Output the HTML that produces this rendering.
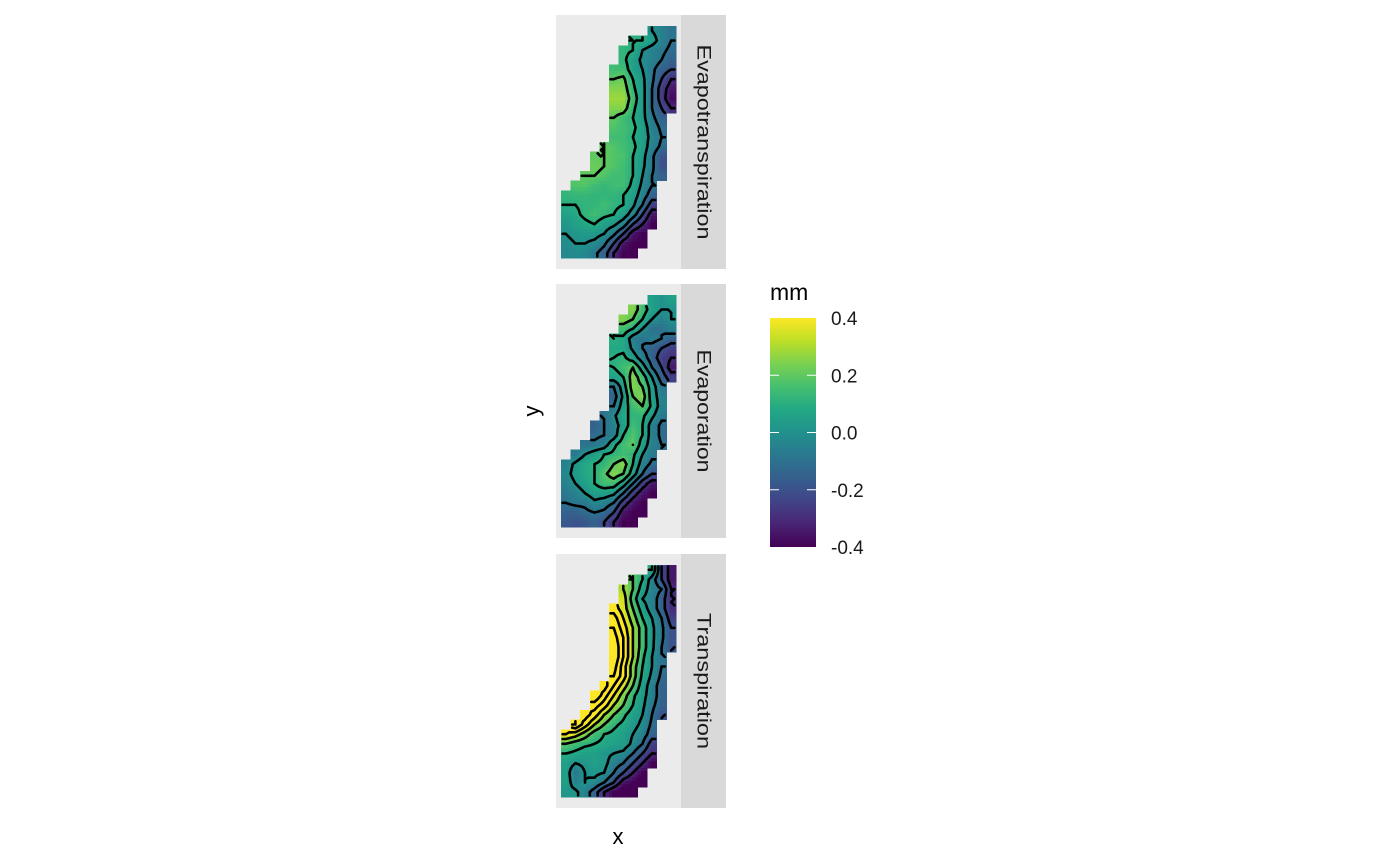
<!DOCTYPE html>
<html><head><meta charset="utf-8"><style>
html,body{margin:0;padding:0;background:#fff;}
svg{display:block;font-family:"Liberation Sans",Arial,sans-serif;}
</style></head><body>
<svg id="chart" width="1400" height="865" viewBox="0 0 1400 865">
<g id="panels"></g>
<text x="539" y="411" font-size="22" fill="#000" text-anchor="middle" transform="rotate(-90 539 411)">y</text>
<text x="618" y="844" font-size="22" fill="#000" text-anchor="middle">x</text>
<g id="legend"></g>
</svg>
<script>
const panelNames = ["Evapotranspiration","Evaporation","Transpiration"];
const stripLengths = [195,123,136];
const maskRows = [[9,11],[7,11],[6,11],[6,11],[5,11],[5,11],[5,11],[5,11],[5,11],[5,10],[5,10],[5,10],[4,10],[3,10],[3,10],[2,10],[1,9],[0,9],[0,9],[0,9],[0,9],[0,8],[0,8],[0,7]];
const evapotranspiration = [
[0,-0.05,-0.1],
[0.1,0.1,0.05,-0.05,-0.1],
[0.12,0.1,0,-0.05,-0.08,-0.12],
[0.12,0.05,-0.02,-0.05,-0.1,-0.15],
[0.15,0.15,0.05,0,-0.08,-0.15,-0.2],
[0.2,0.22,0.1,0.02,-0.08,-0.2,-0.3],
[0.25,0.25,0.12,0.03,-0.1,-0.25,-0.35],
[0.28,0.28,0.15,0.03,-0.1,-0.25,-0.38],
[0.25,0.25,0.12,0.03,-0.1,-0.2,-0.3],
[0.2,0.15,0.1,0.03,-0.08,-0.15],
[0.18,0.15,0.12,0.05,-0.05,-0.12],
[0.15,0.15,0.1,0.05,-0.03,-0.1],
[0.2,0.18,0.15,0.12,0.05,-0.05,-0.12],
[0.2,0.2,0.18,0.17,0.1,0.03,-0.08,-0.2],
[0.22,0.2,0.18,0.15,0.1,0.02,-0.08,-0.2],
[0.2,0.2,0.18,0.15,0.15,0.1,0,-0.1,-0.15],
[0.18,0.18,0.15,0.13,0.15,0.15,0.08,-0.02,-0.1],
[0.12,0.13,0.13,0.12,0.12,0.12,0.1,0.05,-0.05,-0.15],
[0.1,0.1,0.12,0.12,0.15,0.12,0.1,0.02,-0.1,-0.25],
[0.05,0.08,0.12,0.15,0.12,0.1,0.05,-0.05,-0.2,-0.35],
[0.02,0.05,0.08,0.1,0.05,0.02,-0.05,-0.2,-0.3,-0.4],
[0,0.02,0.03,0.03,0,-0.08,-0.2,-0.35,-0.4],
[-0.02,0,0,-0.02,-0.08,-0.2,-0.35,-0.4,-0.4],
[-0.03,-0.02,-0.03,-0.08,-0.15,-0.3,-0.4,-0.4]];
const evaporation = [
[0.05,0,0.05],
[0.25,0.15,0.05,0,0],
[0.25,0.2,0.1,0,-0.05,0],
[0.15,0.1,0,-0.1,-0.1,-0.05],
[0.1,0.08,-0.05,-0.1,-0.05,-0.1,-0.15],
[0.08,0.08,-0.02,-0.1,-0.15,-0.2,-0.25],
[0.1,0.12,0.05,-0.05,-0.15,-0.25,-0.3],
[0.1,0.15,0.2,0.05,-0.1,-0.2,-0.35],
[0.05,0.1,0.25,0.15,0,-0.15,-0.25],
[-0.1,0.05,0.25,0.2,0.05,-0.08],
[-0.15,0.02,0.2,0.25,0.05,-0.05],
[-0.1,0.05,0.15,0.2,0.08,-0.05],
[-0.1,-0.02,0.08,0.12,0.12,0.02,-0.08],
[-0.15,-0.1,-0.05,0.05,0.15,0.1,-0.05,-0.12],
[-0.12,-0.1,-0.05,0.1,0.18,0.1,-0.05,-0.12],
[-0.1,-0.08,-0.05,0.08,0.15,0.2,0.05,-0.05,-0.1],
[-0.08,0,0.05,0.1,0.12,0.15,0.12,0,-0.08],
[-0.05,0.02,0.08,0.1,0.12,0.2,0.25,0.1,-0.05,-0.12],
[-0.03,0.03,0.08,0.1,0.18,0.25,0.2,0.05,-0.1,-0.2],
[-0.05,0,0.05,0.1,0.15,0.15,0.05,-0.1,-0.25,-0.35],
[-0.08,-0.05,0,0.05,0.05,0.02,-0.1,-0.25,-0.35,-0.4],
[-0.1,-0.08,-0.08,-0.02,-0.05,-0.1,-0.25,-0.35,-0.4],
[-0.15,-0.15,-0.12,-0.1,-0.12,-0.2,-0.35,-0.4,-0.4],
[-0.18,-0.2,-0.18,-0.15,-0.2,-0.3,-0.4,-0.4]];
const transpiration = [
[0.1,-0.2,-0.35],
[0.2,0.1,-0.05,-0.2,-0.35],
[0.3,0.2,0.05,-0.05,-0.1,-0.3],
[0.35,0.15,0,-0.05,-0.15,-0.3],
[0.45,0.35,0.2,0.05,-0.05,-0.15,-0.3],
[0.55,0.4,0.25,0.1,0,-0.1,-0.25],
[0.6,0.45,0.3,0.15,0.02,-0.08,-0.2],
[0.65,0.5,0.3,0.15,0.02,-0.08,-0.2],
[0.7,0.5,0.3,0.15,0.02,-0.1,-0.2],
[0.7,0.5,0.3,0.12,0,-0.1],
[0.65,0.45,0.25,0.1,0,-0.1],
[0.6,0.45,0.25,0.08,-0.02,-0.12],
[0.65,0.5,0.35,0.2,0.05,-0.05,-0.15],
[0.7,0.55,0.4,0.25,0.12,0.03,-0.05,-0.15],
[0.55,0.45,0.3,0.2,0.1,0.02,-0.08,-0.15],
[0.55,0.45,0.3,0.2,0.12,0.05,0,-0.1,-0.2],
[0.6,0.45,0.3,0.2,0.12,0.08,0.03,-0.02,-0.12],
[0.4,0.35,0.25,0.15,0.1,0.08,0.05,0,-0.05,-0.15],
[0.2,0.15,0.12,0.1,0.08,0.05,0.05,-0.02,-0.1,-0.25],
[0.1,0.08,0.05,0.05,0.02,0,-0.02,-0.1,-0.2,-0.3],
[0.05,0,0.02,0.05,0.03,-0.05,-0.1,-0.2,-0.3,-0.4],
[0.05,-0.08,0,0.02,0,-0.1,-0.2,-0.3,-0.4],
[0.05,-0.05,0,-0.02,-0.1,-0.2,-0.35,-0.4,-0.45],
[0.02,0.02,-0.05,-0.15,-0.3,-0.4,-0.45,-0.45]];
const panelValues = [evapotranspiration, evaporation, transpiration];
const contourLevels = [-0.3,-0.2,-0.1,0,0.1,0.2,0.3,0.4,0.5,0.6];
const legendTicks = [0.4,0.2,0.0,-0.2,-0.4];
const legendLabels = ["0.4","0.2","0.0","-0.2","-0.4"];
const legendTitle = "mm";

const NS = "http://www.w3.org/2000/svg";
const vir = ["#440154","#482475","#414487","#355f8d","#2a788e","#21918c","#22a884","#44bf70","#7ad151","#bddf26","#fde725"];
function hex(h){return [parseInt(h.substr(1,2),16),parseInt(h.substr(3,2),16),parseInt(h.substr(5,2),16)];}
const virRGB = vir.map(hex);
const vmin=-0.4, vmax=0.4;
function color(v){
  let t=(v-vmin)/(vmax-vmin); t=Math.max(0,Math.min(1,t));
  const p=t*10, i=Math.min(9,Math.floor(p)), f=p-i;
  const a=virRGB[i], b=virRGB[i+1];
  return "rgb("+a.map((x,k)=>Math.round(x+(b[k]-x)*f)).join(",")+")";
}
function el(tag, attrs, parent){const e=document.createElementNS(NS,tag);for(const k in attrs)e.setAttribute(k,attrs[k]);parent.appendChild(e);return e;}

const ROWS=24, COLS=12, K=3;
const panelTops=[15,284,554], panelH=254;
const plotX0=556, plotX1=681;
const dataX0=561, dataX1=676;
const panelsG=document.getElementById("panels");

function coarseGrid(vals){
  const G=[];
  for(let r=0;r<ROWS;r++){G.push(new Array(COLS).fill(null));
    const [l,rr]=maskRows[r];
    for(let c=l;c<=rr;c++){const v=vals[r][c-l];G[r][c]=(v===undefined?null:v);}}
  return G;
}
function sample(G,u,v){
  const c0=Math.floor(u), r0=Math.floor(v);
  let s=0,w=0;
  for(const [dr,dc] of [[0,0],[0,1],[1,0],[1,1]]){
    const r=r0+dr,c=c0+dc;
    if(r<0||r>=ROWS||c<0||c>=COLS)continue;
    const val=G[r][c]; if(val===null)continue;
    const wt=(dc?u-c0:1-(u-c0))*(dr?v-r0:1-(v-r0));
    s+=val*wt; w+=wt;
  }
  return w>1e-9?s/w:null;
}

panelNames.forEach((name,pi)=>{
  const top=panelTops[pi];
  const g=el("g",{},panelsG);
  
  
  const bg=el("rect",{x:plotX0,y:top,width:plotX1-plotX0,height:panelH,fill:"#ebebeb"},g);
  
  
  const y0=top+11, y1=top+243;
  const cw=(dataX1-dataX0)/COLS, ch=(y1-y0)/ROWS;
  const G=coarseGrid(panelValues[pi]);
  const fw=cw/K, fh=ch/K;
  const F=[];
  const cells=el("g",{"shape-rendering":"crispEdges"},g);
  
  
  for(let i=0;i<ROWS*K;i++){F.push([]);
    for(let j=0;j<COLS*K;j++){
      const r=Math.floor(i/K), c=Math.floor(j/K);
      if(G[r][c]===null){F[i].push(null);continue;}
      const val=sample(G,(j+0.5)/K-0.5,(i+0.5)/K-0.5);
      F[i].push(val);
      const rc=el("rect",{x:(dataX0+j*fw).toFixed(2),y:(y0+i*fh).toFixed(2),width:(fw+0.4).toFixed(2),height:(fh+0.4).toFixed(2),fill:color(val)},cells);
      
      
    }
  }
  let d="";
  const px=j=>dataX0+(j+0.5)*fw, py=i=>y0+(i+0.5)*fh;
  contourLevels.forEach(L=>{
    for(let i=0;i<ROWS*K-1;i++)for(let j=0;j<COLS*K-1;j++){
      const a=F[i][j],b=F[i][j+1],c=F[i+1][j+1],e=F[i+1][j];
      if(a===null||b===null||c===null||e===null)continue;
      const pts=[];
      const edge=(v1,v2,x1,y1,x2,y2)=>{if((v1<L)!==(v2<L)){const t=(L-v1)/(v2-v1);pts.push([x1+(x2-x1)*t,y1+(y2-y1)*t]);}};
      edge(a,b,px(j),py(i),px(j+1),py(i));
      edge(b,c,px(j+1),py(i),px(j+1),py(i+1));
      edge(c,e,px(j+1),py(i+1),px(j),py(i+1));
      edge(e,a,px(j),py(i+1),px(j),py(i));
      for(let k=0;k+1<pts.length;k+=2)d+="M"+pts[k][0].toFixed(1)+" "+pts[k][1].toFixed(1)+"L"+pts[k+1][0].toFixed(1)+" "+pts[k+1][1].toFixed(1);
    }
  });
  const cp=el("path",{d:d,fill:"none",stroke:"#000","stroke-width":2.6,"stroke-linecap":"round"},g);
  
  
  const st=el("rect",{x:681,y:top,width:45,height:panelH,fill:"#d9d9d9"},g);
  
  
  const cy=top+panelH/2, cx=703;
  const tx=el("text",{x:cx,y:cy,"font-size":19,fill:"#1a1a1a","text-anchor":"middle","dominant-baseline":"central",transform:"rotate(90 "+cx+" "+cy+")",textLength:stripLengths[pi],lengthAdjust:"spacingAndGlyphs"},g);
  tx.textContent=name;
  
  
});

const lg=document.getElementById("legend");
const defs=el("defs",{},lg);
const grad=el("linearGradient",{id:"vgrad",x1:0,y1:1,x2:0,y2:0},defs);
vir.forEach((c,i)=>el("stop",{offset:(i/10),"stop-color":c},grad));
const barX=770, barW=46, barTop=318, barBot=547;
const ly=v=>barBot-(v-vmin)/(vmax-vmin)*(barBot-barTop);
const tt=el("text",{x:770,y:300,"font-size":23,fill:"#000"},lg);
tt.textContent=legendTitle;


const bar=el("rect",{x:barX,y:barTop,width:barW,height:barBot-barTop,fill:"url(#vgrad)"},lg);


legendTicks.forEach((v,i)=>{
  const y=ly(v);
  if(i>0&&i<legendTicks.length-1){
    const t1=el("line",{x1:barX,x2:barX+9,y1:y,y2:y,stroke:"#fff","stroke-width":1},lg);
    
    
    const t2=el("line",{x1:barX+barW-9,x2:barX+barW,y1:y,y2:y,stroke:"#fff","stroke-width":1},lg);
    
    
  }
  const lab=el("text",{x:831,y:y+7,"font-size":19,fill:"#1a1a1a"},lg);
  lab.textContent=legendLabels[i];
  
  
});
</script>
</body></html>
